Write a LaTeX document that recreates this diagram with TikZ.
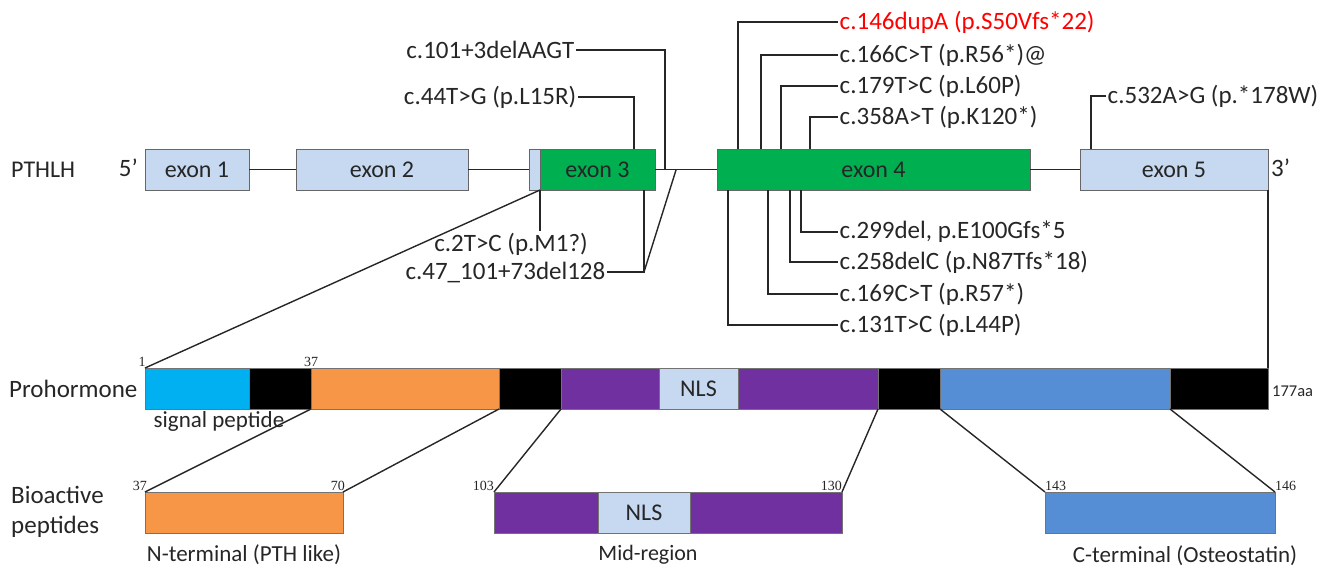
\documentclass[tikz,border=0pt]{standalone}
\usepackage{fontspec}
\setmainfont{Carlito}
\newfontfamily\numfont{Liberation Serif}
\definecolor{txt}{HTML}{262626}
\definecolor{lblue}{HTML}{C6D9F1}
\definecolor{egreen}{HTML}{00B050}
\definecolor{cyanseg}{HTML}{00B0F0}
\definecolor{orangeseg}{HTML}{F79646}
\definecolor{purpleseg}{HTML}{7030A0}
\definecolor{blueseg}{HTML}{558ED5}
\definecolor{redtxt}{HTML}{FF0000}
\tikzset{
  exonbox/.style={draw=black!60, line width=0.8pt, minimum height=41pt, inner sep=0pt, outer sep=0pt, anchor=north west, font=\fontsize{24}{28}\selectfont, text=txt},
  segbox/.style={draw=black!55, line width=0.6pt, minimum height=41pt, inner sep=0pt, outer sep=0pt, anchor=north west, font=\fontsize{24}{28}\selectfont, text=txt},
  mut/.style={font=\fontsize{25}{30}\selectfont, text=txt, inner sep=1.5pt},
  conn/.style={line width=1.4pt, draw=txt},
  numlab/.style={font=\numfont\fontsize{14}{16}\selectfont, text=txt, inner sep=1pt},
  sublab/.style={font=\fontsize{23}{27}\selectfont, text=txt, inner sep=0pt},
  rowlab/.style={font=\fontsize{25}{30}\selectfont, text=txt, inner sep=0pt, align=left},
}
\begin{document}
\begin{tikzpicture}[x=1pt,y=-1pt]
\useasboundingbox (0,0) rectangle (1335,566);
% ---------- gene row ----------
\node[rowlab, anchor=west] (lpthlh) at (11,170) {\fontsize{24}{28}\selectfont PTHLH};
\node[rowlab, anchor=east] (l5) at (138,168) {5’};
\node[exonbox, fill=lblue, minimum width=104pt] (e1) at (145,149) {exon 1};
\node[exonbox, fill=lblue, minimum width=172pt] (e2) at (296,149) {exon 2};
\node[exonbox, fill=lblue, minimum width=11pt] (u3) at (529,149) {};
\node[exonbox, fill=egreen, minimum width=115pt] (e3) at (540,149) {exon 3};
\node[exonbox, fill=egreen, minimum width=313pt] (e4) at (717,149) {exon 4};
\node[exonbox, fill=lblue, minimum width=188pt] (e5) at (1080,149) {exon 5};
\node[rowlab, anchor=west] (l3) at (1271,168) {3’};
\draw[conn] (e1.east) -- (e2.west);
\draw[conn] (e2.east) -- (u3.west);
\draw[conn] (e3.east) -- (e4.west);
\draw[conn] (e4.east) -- (e5.west);
% ---------- mutation labels ----------
\node[mut, anchor=east] (m101) at (576,50) {c.101+3delAAGT};
\node[mut, anchor=east] (m44) at (578,97) {c.44T>G (p.L15R)};
\node[mut, anchor=west, text=redtxt] (m146) at (838,22) {c.146dupA (p.S50Vfs*22)};
\node[mut, anchor=west] (m166) at (838,55) {c.166C>T (p.R56*)@};
\node[mut, anchor=west] (m179) at (838,86) {c.179T>C (p.L60P)};
\node[mut, anchor=west] (m358) at (838,117) {c.358A>T (p.K120*)};
\node[mut, anchor=west] (m532) at (1106,96) {c.532A>G (p.*178W)};
\node[mut, anchor=west] (m299) at (838,232) {c.299del, p.E100Gfs*5};
\node[mut, anchor=west] (m258) at (838,262) {c.258delC (p.N87Tfs*18)};
\node[mut, anchor=west] (m169) at (838,294) {c.169C>T (p.R57*)};
\node[mut, anchor=west] (m131) at (838,325) {c.131T>C (p.L44P)};
\node[mut] (m2) at (511,244) {c.2T>C (p.M1?)};
\node[mut, anchor=east] (m47) at (607,272) {c.47\_101+73del128};
% attachment points
\coordinate (p101) at (665,170);
\coordinate (p44) at (634,149);
\coordinate (p146) at (738,149);
\coordinate (p166) at (761,149);
\coordinate (p179) at (781,149);
\coordinate (p358) at (810,149);
\coordinate (p532) at (1091,149);
\coordinate (p299) at (801,190);
\coordinate (p258) at (790,190);
\coordinate (p169) at (768,190);
\coordinate (p131) at (728,190);
\coordinate (p2) at (540,190);
\coordinate (p47a) at (644,190);
\coordinate (p47b) at (676,170);
\coordinate (k47) at (644,272);
\draw[conn] (m101.east) -| (p101);
\draw[conn] (m44.east) -| (p44);
\draw[conn] (m146.west) -| (p146);
\draw[conn] (m166.west) -| (p166);
\draw[conn] (m179.west) -| (p179);
\draw[conn] (m358.west) -| (p358);
\draw[conn] (m532.west) -| (p532);
\draw[conn] (m299.west) -| (p299);
\draw[conn] (m258.west) -| (p258);
\draw[conn] (m169.west) -| (p169);
\draw[conn] (m131.west) -| (p131);
\draw[conn] (p2) -- (m2.north -| p2);
\draw[conn] (m47.east) -- (k47) -- (p47a);
\draw[conn] (k47) -- (p47b);
% ---------- prohormone ----------
\node[rowlab, anchor=west] (lpro) at (9,389) {Prohormone};
\node[segbox, fill=cyanseg, minimum width=104pt] (s1) at (145,368) {};
\node[segbox, fill=black, minimum width=62pt] (s2) at (249,368) {};
\node[segbox, fill=orangeseg, minimum width=188pt] (s3) at (311,368) {};
\node[segbox, fill=black, minimum width=62pt] (s4) at (499,368) {};
\node[segbox, fill=purpleseg, minimum width=98pt] (s5) at (561,368) {};
\node[segbox, fill=lblue, minimum width=79pt] (s6) at (659,368) {NLS};
\node[segbox, fill=purpleseg, minimum width=140pt] (s7) at (738,368) {};
\node[segbox, fill=black, minimum width=62pt] (s8) at (878,368) {};
\node[segbox, fill=blueseg, minimum width=230pt] (s9) at (940,368) {};
\node[segbox, fill=black, minimum width=98pt] (s10) at (1170,368) {};
\node[numlab, anchor=south] (n1) at (142,368) {1};
\node[numlab, anchor=south] (n37) at (311,368) {37};
\node[font=\fontsize{16.5}{18}\selectfont, text=txt, inner sep=1pt, anchor=west] (n177) at (1271,391) {177aa};
\node[sublab] (lsig) at (219,421) {signal peptide};
\draw[conn] (e3.south west) -- (s1.north west);
\draw[conn] (e5.south east) -- (s10.north east);
% ---------- bioactive peptides ----------
\node[rowlab, anchor=west] (lbio) at (11,512) {Bioactive\\peptides};
\node[segbox, fill=orangeseg, minimum width=198pt] (b1) at (145,492) {};
\node[segbox, fill=purpleseg, minimum width=104pt] (b2) at (494,492) {};
\node[segbox, fill=lblue, minimum width=92pt] (b3) at (598,492) {NLS};
\node[segbox, fill=purpleseg, minimum width=152pt] (b4) at (690,492) {};
\node[segbox, fill=blueseg, minimum width=230pt] (b5) at (1045,492) {};
\node[numlab, anchor=south east] (nb37) at (148,492) {37};
\node[numlab, anchor=south east] (nb70) at (346,492) {70};
\node[numlab, anchor=south east] (nb103) at (495,492) {103};
\node[numlab, anchor=south east] (nb130) at (843,492) {130};
\node[numlab, anchor=south west] (nb143) at (1044,492) {143};
\node[numlab, anchor=south west] (nb146) at (1274,492) {146};
\node[sublab] (lnt) at (244,555) {N-terminal (PTH like)};
\node[sublab, font=\fontsize{22}{26}\selectfont] (lmid) at (648,555) {Mid-region};
\node[sublab] (lct) at (1185,556) {C-terminal (Osteostatin)};
\draw[conn] (s3.south west) -- (b1.north west);
\draw[conn] (s4.south west) -- (b1.north east);
\draw[conn] (s5.south west) -- (b2.north west);
\draw[conn] (s8.south west) -- (b4.north east);
\draw[conn] (s9.south west) -- (b5.north west);
\draw[conn] (s10.south west) -- (b5.north east);
\end{tikzpicture}
\end{document}
